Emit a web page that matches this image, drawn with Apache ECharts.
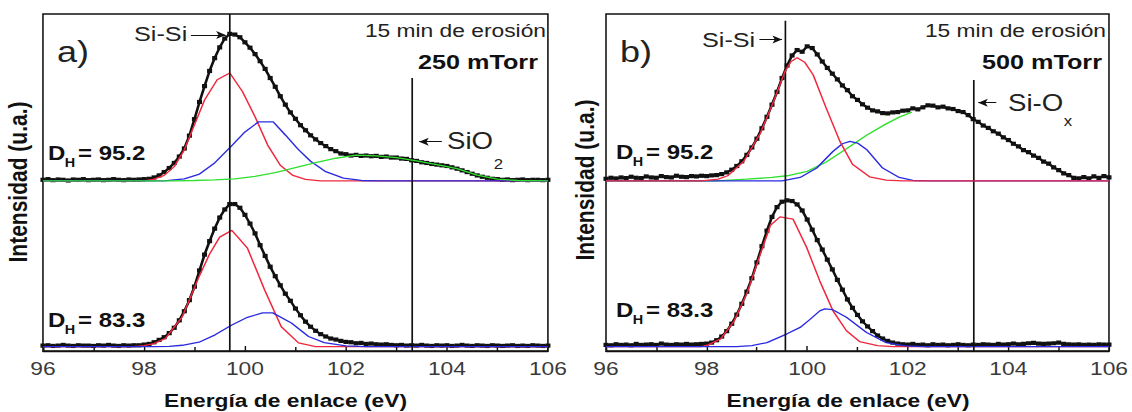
<!DOCTYPE html>
<html>
<head>
<meta charset="utf-8">
<script src="https://cdn.jsdelivr.net/npm/echarts@6/dist/echarts.min.js"></script>
<style>
  html, body { margin: 0; padding: 0; background: #fff; overflow: hidden; }
  /* the figure is laid out narrow and widened horizontally */
  #chart { width: 943.333px; height: 412px; transform: scaleX(1.2); transform-origin: 0 0; }
</style>
</head>
<body>
<div id="chart"></div>
<script>
// Binding energy grid of the measured spectra (eV)
const ENERGY = [
  96.0, 96.1, 96.2, 96.3, 96.4, 96.5, 96.6, 96.7, 96.8, 96.9,
  97.0, 97.1, 97.2, 97.3, 97.4, 97.5, 97.6, 97.7, 97.8, 97.9,
  98.0, 98.1, 98.2, 98.3, 98.4, 98.5, 98.6, 98.7, 98.8, 98.9,
  99.0, 99.1, 99.2, 99.3, 99.4, 99.5, 99.6, 99.7, 99.8, 99.9,
  100.0, 100.1, 100.2, 100.3, 100.4, 100.5, 100.6, 100.7, 100.8, 100.9,
  101.0, 101.1, 101.2, 101.3, 101.4, 101.5, 101.6, 101.7, 101.8, 101.9,
  102.0, 102.1, 102.2, 102.3, 102.4, 102.5, 102.6, 102.7, 102.8, 102.9,
  103.0, 103.1, 103.2, 103.3, 103.4, 103.5, 103.6, 103.7, 103.8, 103.9,
  104.0, 104.1, 104.2, 104.3, 104.4, 104.5, 104.6, 104.7, 104.8, 104.9,
  105.0, 105.1, 105.2, 105.3, 105.4, 105.5, 105.6, 105.7, 105.8, 105.9,
  106.0
];
const X_TICKS = [96, 98, 100, 102, 104, 106];

// a) 250 mTorr, D_H = 95.2 (measured)
const A_TOP = [
  0.3, 0.5, 0.2, 0.4, 0.3, 0.1, 0.4, 0.3, 0.5, 0.2,
  0.3, 0.4, 0.2, 0.3, 0.5, 0.3, 0.2, 0.4, 0.3, 0.4,
  0.5, 0.6, 1.0, 1.6, 2.6, 3.8, 5.3, 7.2, 9.6, 13.4,
  18.3, 23.4, 28.1, 32.6, 36.4, 39.6, 42.2, 43.6, 43.4, 42.6,
  41.1, 39.5, 37.6, 35.5, 33.2, 30.5, 27.9, 25.1, 22.6, 20.3,
  18.4, 16.5, 15.0, 13.5, 12.3, 11.2, 10.3, 9.4, 8.8, 8.1,
  7.9, 7.5, 7.7, 7.4, 7.5, 7.3, 7.4, 7.1, 7.2, 6.9,
  6.9, 6.6, 6.5, 6.1, 5.9, 5.5, 5.3, 5.0, 4.8, 4.6,
  4.4, 4.0, 3.6, 3.1, 2.6, 2.1, 1.6, 1.2, 0.9, 0.6,
  0.5, 0.3, 0.4, 0.2, 0.3, 0.4, 0.2, 0.3, 0.3, 0.2,
  0.3
];
// a) 250 mTorr, D_H = 83.3 (measured)
const A_BOT = [
  0.3, 0.4, 0.2, 0.3, 0.5, 0.3, 0.2, 0.4, 0.3, 0.3,
  0.2, 0.4, 0.3, 0.5, 0.3, 0.2, 0.4, 0.3, 0.4, 0.4,
  0.6, 0.8, 1.3, 2.0, 2.8, 4.0, 5.6, 7.8, 10.5, 13.8,
  17.8, 22.6, 27.3, 31.3, 35.0, 38.3, 40.7, 42.3, 42.3, 41.2,
  39.1, 36.5, 33.6, 30.1, 26.9, 23.7, 20.9, 18.2, 15.7, 13.6,
  11.3, 9.3, 7.4, 5.9, 4.7, 3.7, 3.0, 2.4, 2.1, 1.7,
  1.4, 1.3, 1.0, 1.1, 0.8, 0.9, 0.7, 0.6, 0.7, 0.5,
  0.4, 0.5, 0.3, 0.4, 0.3, 0.5, 0.3, 0.2, 0.4, 0.3,
  0.4, 0.2, 0.3, 0.5, 0.3, 0.2, 0.4, 0.3, 0.2, 0.4,
  0.3, 0.2, 0.3, 0.4, 0.2, 0.3, 0.2, 0.4, 0.3, 0.2,
  0.3
];
// b) 500 mTorr, D_H = 95.2 (measured)
const B_TOP = [
  0.6, 0.9, 0.7, 1.0, 0.8, 1.2, 0.9, 0.8, 1.3, 1.0,
  0.9, 1.4, 1.1, 1.0, 1.5, 1.2, 1.1, 1.4, 1.3, 1.5,
  1.4, 1.6, 1.7, 2.0, 2.5, 3.3, 4.4, 5.8, 7.7, 9.9,
  12.5, 15.6, 19.0, 22.6, 26.4, 30.5, 34.2, 37.2, 38.8, 38.3,
  39.9, 39.4, 37.5, 35.4, 33.5, 31.8, 30.1, 28.3, 26.9, 25.1,
  24.0, 22.7, 21.7, 20.9, 20.6, 20.1, 20.0, 20.3, 20.4, 20.8,
  20.9, 21.5, 21.2, 21.8, 22.4, 22.3, 21.8, 22.0, 21.5, 21.3,
  20.7, 20.4, 19.5, 18.3, 17.5, 16.4, 15.7, 14.7, 14.0, 12.9,
  12.1, 11.0, 10.2, 9.1, 8.5, 7.5, 6.8, 5.7, 5.1, 4.0,
  3.2, 2.2, 1.7, 0.9, 0.7, 1.1, 0.7, 1.3, 0.9, 1.4,
  1.0
];
// b) 500 mTorr, D_H = 83.3 (measured)
const B_BOT = [
  0.5, 0.4, 0.7, 0.5, 0.6, 0.4, 0.8, 0.5, 0.6, 0.7,
  0.5, 0.9, 0.6, 0.5, 0.7, 0.6, 0.8, 0.6, 0.7, 0.8,
  0.9, 1.2, 1.9, 3.0, 4.6, 6.8, 9.5, 12.7, 16.3, 20.3,
  25.0, 29.8, 34.4, 38.5, 41.4, 43.0, 43.4, 43.2, 42.2, 40.4,
  37.7, 34.7, 31.6, 28.8, 25.8, 22.9, 19.8, 16.9, 14.0, 11.5,
  9.4, 7.5, 6.0, 4.6, 3.3, 2.4, 1.7, 1.2, 0.9, 0.7,
  0.6, 0.8, 0.5, 0.6, 0.4, 0.7, 0.5, 0.6, 0.4, 0.5,
  0.7, 0.5, 0.4, 0.6, 0.5, 0.7, 0.6, 0.5, 0.8, 0.6,
  0.7, 0.9, 0.7, 0.8, 1.0, 1.1, 0.9, 0.8, 0.9, 1.0,
  1.2, 0.8, 0.7, 0.6, 0.7, 0.5, 0.6, 0.5, 0.7, 0.6,
  0.6
];

// Fitted components, [energy (eV), intensity]
const A_TOP_SISI = [[96,0],[98.0,0],[98.2,0.5],[98.4,1.6],[98.6,4.2],[98.8,9.2],[99.0,16.6],[99.2,24.0],[99.45,30.0],[99.7,32.0],[99.95,26.5],[100.2,19.0],[100.45,10.6],[100.7,4.6],[100.95,1.6],[101.2,0.4],[101.5,0],[106,0]];
const A_TOP_SUB  = [[96,0],[98.4,0],[98.8,0.6],[99.1,2.0],[99.4,5.3],[99.75,10.6],[100.0,14.5],[100.27,17.5],[100.56,17.5],[100.8,13.6],[101.05,9.4],[101.3,5.8],[101.6,2.7],[101.95,0.8],[102.3,0.1],[102.6,0],[106,0]];
const A_TOP_OX   = [[96,0],[98.6,0],[99.0,0.1],[99.4,0.3],[99.8,0.6],[100.2,1.3],[100.6,2.4],[101.0,3.9],[101.4,5.4],[101.8,6.7],[102.2,7.6],[102.6,7.4],[103.0,6.9],[103.4,5.9],[103.8,4.8],[104.2,3.6],[104.6,1.7],[105.0,0.5],[105.4,0.1],[106,0]];
const A_BOT_SISI = [[96,0],[97.8,0],[98.0,0.3],[98.2,0.9],[98.43,2.5],[98.76,8.9],[99.09,20.7],[99.3,27.5],[99.5,32.5],[99.74,34.5],[100.05,29.2],[100.39,16.8],[100.72,5.9],[101.06,1.1],[101.4,0],[106,0]];
const A_BOT_SUB  = [[96,0],[98.2,0],[98.5,0.1],[98.76,0.4],[99.09,1.3],[99.41,3.5],[99.74,6.4],[100.05,8.7],[100.35,10.0],[100.55,10.0],[100.92,7.0],[101.26,3.0],[101.57,1.2],[102.0,0.2],[102.4,0],[106,0]];
const B_TOP_SISI = [[96,0],[97.9,0],[98.23,0.5],[98.42,1.5],[98.74,5.8],[99.07,14.2],[99.33,23.5],[99.56,32.5],[99.68,35.4],[99.8,36.5],[99.95,35.2],[100.12,31.4],[100.38,21.5],[100.65,11.7],[100.9,4.9],[101.24,1.2],[101.57,0.2],[101.9,0],[106,0]];
const B_TOP_SUB  = [[96,0],[99.5,0],[99.86,1.0],[100.19,3.8],[100.51,8.7],[100.7,11.0],[100.85,11.7],[101.0,11.2],[101.18,9.3],[101.5,3.8],[101.83,1.0],[102.1,0.1],[102.4,0],[106,0]];
const B_TOP_OX   = [[96,0],[98.2,0],[98.8,0.5],[99.3,1.0],[99.6,1.5],[100.0,2.8],[100.38,5.6],[100.78,9.5],[101.18,13.5],[101.57,16.9],[101.83,18.9],[102.08,20.4]];
const B_BOT_SISI = [[96,0],[97.9,0],[98.03,0.5],[98.28,2.3],[98.54,7.4],[98.81,16.1],[99.07,27.5],[99.27,36.0],[99.46,38.5],[99.72,37.8],[99.99,29.4],[100.25,19.5],[100.51,10.7],[100.78,4.7],[101.04,1.5],[101.4,0.3],[101.7,0],[106,0]];
const B_BOT_SUB  = [[96,0],[98.6,0],[98.9,0.3],[99.2,1.2],[99.6,3.8],[99.86,5.7],[100.05,8.0],[100.25,10.6],[100.35,11.2],[100.5,11.0],[100.78,8.7],[101.18,4.2],[101.57,1.2],[101.95,0.2],[102.3,0],[106,0]];

// Vertical offsets used to stack the two spectra of each panel
const OFFSET_TOP = 50.5;
const OFFSET_BOT = 1.3;

const FONT = '"Liberation Sans", Arial, sans-serif';
const RED = '#f0283e', BLUE = '#2a2ae0', GREEN = '#2fe02f', INK = '#111';

function measured(vals, off) {
  return ENERGY.map((e, i) => [e, +(vals[i] + off).toFixed(2)]);
}
function shifted(pairs, off) {
  return pairs.map(p => [p[0], +(p[1] + off).toFixed(2)]);
}
function dataSeries(idx, vals, off, extra) {
  return Object.assign({
    type: 'line', xAxisIndex: idx, yAxisIndex: idx,
    data: measured(vals, off),
    symbol: 'rect', symbolSize: 4.2, showSymbol: true,
    lineStyle: { color: INK, width: 2.2 },
    itemStyle: { color: INK },
    z: 2
  }, extra || {});
}
function fitSeries(idx, pairs, off, color, z) {
  return {
    type: 'line', xAxisIndex: idx, yAxisIndex: idx,
    data: shifted(pairs, off),
    symbol: 'none', smooth: false,
    lineStyle: { color: color, width: 1.3 },
    z: z
  };
}
function refLines(siSi, siSiTop, ox, oxTop, arrows) {
  const data = [
    [{ coord: [siSi, 0] }, { coord: [siSi, siSiTop] }],
    [{ coord: [ox, 0] }, { coord: [ox, oxTop] }]
  ];
  arrows.forEach(a => {
    data.push([
      { coord: [a[0], a[2]], symbol: 'none', lineStyle: { width: 1 } },
      { coord: [a[1], a[2]], symbol: 'arrow', symbolSize: [6, 8], lineStyle: { width: 1 } }
    ]);
  });
  return {
    silent: true, symbol: 'none', animation: false,
    label: { show: false },
    lineStyle: { color: INK, width: 1.4, type: 'solid' },
    data: data
  };
}

function text(x, y, str, size, opt) {
  opt = opt || {};
  return {
    type: 'text', x: x, y: y, silent: true, rotation: opt.rotation || 0,
    style: {
      text: str, fontSize: size, fontFamily: FONT,
      fontWeight: opt.bold ? 'bold' : 'normal',
      fill: opt.color || '#222',
      align: opt.align || 'left', verticalAlign: 'middle'
    }
  };
}
function dLabel(x, y, value) {
  return [
    text(x, y, 'D', 20, { bold: true, color: '#111' }),
    text(x + 14, y + 10, 'H', 12, { bold: true, color: '#111' }),
    text(x + 25, y, '= ' + value, 20, { bold: true, color: '#111' })
  ];
}

const axisCommon = {
  type: 'value', min: X_TICKS[0], max: X_TICKS[X_TICKS.length - 1],
  interval: X_TICKS[1] - X_TICKS[0],
  axisLine: { show: true, lineStyle: { color: INK, width: 1.3 } },
  axisTick: { show: true, inside: true, length: 5, lineStyle: { color: INK, width: 1.2 } },
  minorTick: { show: true, splitNumber: 2, length: 4, lineStyle: { color: INK, width: 1.2 } },
  splitLine: { show: false },
  axisLabel: { fontSize: 19, color: '#3a3a3a', fontFamily: FONT, margin: 8 }
};

const chart = echarts.init(document.getElementById('chart'), null, { renderer: 'svg' });
chart.setOption({
  animation: false,
  backgroundColor: '#fff',
  grid: [
    { left: 35.8, top: 14, width: 420.8, bottom: 61, show: true, borderColor: INK, borderWidth: 1.3, backgroundColor: 'transparent' },
    { left: 505, top: 14, width: 420.8, bottom: 61, show: true, borderColor: INK, borderWidth: 1.3, backgroundColor: 'transparent' }
  ],
  xAxis: [
    Object.assign({ gridIndex: 0 }, axisCommon),
    Object.assign({ gridIndex: 1 }, axisCommon)
  ],
  yAxis: [
    { type: 'value', gridIndex: 0, min: 0, max: 100, show: false },
    { type: 'value', gridIndex: 1, min: 0, max: 100, show: false }
  ],
  series: [
    // panel a
    dataSeries(0, A_TOP, OFFSET_TOP, {
      markLine: refLines(99.7, 100, 103.3, 81, [[98.93, 99.62, 93.8], [103.9, 103.45, 62.1]])
    }),
    dataSeries(0, A_BOT, OFFSET_BOT),
    fitSeries(0, A_TOP_SISI, OFFSET_TOP, RED, 3),
    fitSeries(0, A_TOP_SUB, OFFSET_TOP, BLUE, 4),
    fitSeries(0, A_TOP_OX, OFFSET_TOP, GREEN, 5),
    fitSeries(0, A_BOT_SISI, OFFSET_BOT, RED, 3),
    fitSeries(0, A_BOT_SUB, OFFSET_BOT, BLUE, 4),
    // panel b
    dataSeries(1, B_TOP, OFFSET_TOP, {
      markLine: refLines(99.56, 98, 103.3, 80.4, [[99.05, 99.5, 92.4], [103.76, 103.4, 73.7]])
    }),
    dataSeries(1, B_BOT, OFFSET_BOT),
    fitSeries(1, B_TOP_OX, OFFSET_TOP, GREEN, 3),
    fitSeries(1, B_TOP_SUB, OFFSET_TOP, BLUE, 4),
    fitSeries(1, B_TOP_SISI, OFFSET_TOP, RED, 5),
    fitSeries(1, B_BOT_SISI, OFFSET_BOT, RED, 3),
    fitSeries(1, B_BOT_SUB, OFFSET_BOT, BLUE, 4)
  ],
  graphic: [
    // panel a annotations
    text(47.5, 52, 'a)', 30),
    text(111.7, 34, 'Si-Si', 21),
    text(455, 30, '15 min de erosión', 19, { align: 'right' }),
    text(448.3, 62, '250 mTorr', 21, { bold: true, align: 'right', color: '#111' }),
    text(372.5, 141, 'SiO', 23),
    text(411.5, 164, '2', 14),
    ...dLabel(40, 153, '95.2'),
    ...dLabel(40, 320, '83.3'),
    text(15, 182, 'Intensidad (u.a.)', 21, { bold: true, align: 'center', rotation: Math.PI / 2, color: '#111' }),
    text(237.9, 400, 'Energía de enlace (eV)', 19, { bold: true, align: 'center', color: '#111' }),
    // panel b annotations
    text(516.7, 52, 'b)', 30),
    text(585, 40, 'Si-Si', 21),
    text(921.7, 30, '15 min de erosión', 19, { align: 'right' }),
    text(918.3, 62, '500 mTorr', 21, { bold: true, align: 'right', color: '#111' }),
    text(840, 103, 'Si-O', 23),
    text(886.5, 121, 'x', 14),
    ...dLabel(513.3, 152, '95.2'),
    ...dLabel(513.3, 310, '83.3'),
    text(487.5, 180, 'Intensidad (u.a.)', 21, { bold: true, align: 'center', rotation: Math.PI / 2, color: '#111' }),
    text(706.7, 400, 'Energía de enlace (eV)', 19, { bold: true, align: 'center', color: '#111' })
  ]
});
</script>
</body>
</html>
